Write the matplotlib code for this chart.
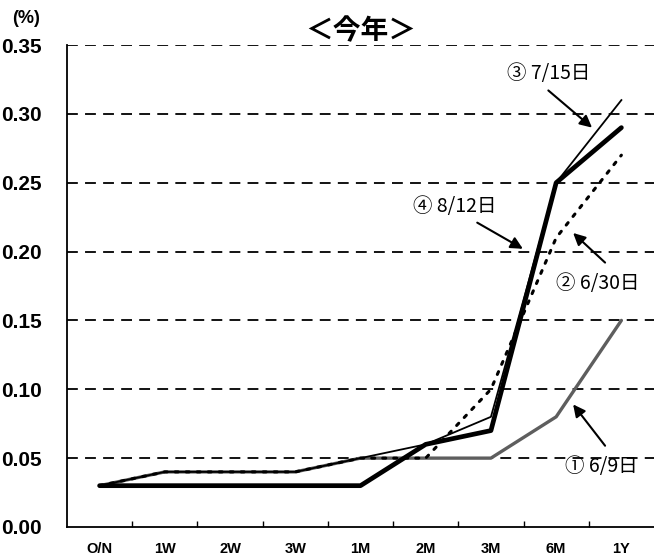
import numpy as np
import matplotlib.pyplot as plt

plt.rcParams['font.family'] = ['Liberation Sans', 'Noto Sans CJK JP', 'DejaVu Sans']

# tenors and yield curves (%)
tenors = ['O/N', '1W', '2W', '3W', '1M', '2M', '3M', '6M', '1Y']
curve_0609 = [0.03, 0.04, 0.04, 0.04, 0.05, 0.05, 0.05, 0.08, 0.15]
curve_0630 = [0.03, 0.04, 0.04, 0.04, 0.05, 0.05, 0.10, 0.21, 0.27]
curve_0715 = [0.03, 0.04, 0.04, 0.04, 0.05, 0.06, 0.08, 0.25, 0.31]
curve_0812 = [0.03, 0.03, 0.03, 0.03, 0.03, 0.06, 0.07, 0.25, 0.29]

yticks = [0.00, 0.05, 0.10, 0.15, 0.20, 0.25, 0.30, 0.35]

x = np.arange(len(tenors))

fig = plt.figure(figsize=(6.54, 5.57), dpi=100)
ax = fig.add_axes([0.1024, 0.0539, 0.8976, 0.8653])

# dashed grid
for y in yticks[1:]:
    ax.axhline(y, color='black', lw=1.3, ls=(0, (6, 4)), zorder=1)

ax.plot(x, curve_0609, color='#5e5e5e', lw=2.4, solid_capstyle='round', zorder=2)
ax.plot(x, curve_0630, color='black', lw=2.2, ls=(0, (1, 2.6)), dash_capstyle='round', zorder=3)
ax.plot(x, curve_0715, color='black', lw=1.3, zorder=4)
ax.plot(x, curve_0812, color='black', lw=3.4, solid_capstyle='round', zorder=5)

ax.set_xlim(-0.5, len(tenors) - 0.5)
ax.set_ylim(0, 0.35)
ax.set_yticks(yticks)
ax.set_yticklabels([f'{v:.2f}' for v in yticks], fontsize=15, fontweight='bold')
ax.tick_params(axis='y', length=0, pad=18)
ax.set_xticks(x)
ax.set_xticklabels(tenors, fontsize=10.5, fontweight='bold')
ax.tick_params(axis='x', length=0, pad=11)
ax.set_xticks(x[:-1] + 0.5, minor=True)
ax.tick_params(axis='x', which='minor', direction='in', length=4, width=1)

for s in ['top', 'right']:
    ax.spines[s].set_visible(False)
for s in ['left', 'bottom']:
    ax.spines[s].set_linewidth(1.3)

fig.text(0.018, 0.967, '(%)', fontsize=13, fontweight='bold', va='center', ha='left')
ax.set_title('＜今年＞', fontsize=20, fontweight='bold', pad=4, family=['Noto Sans CJK JP'])

arrow = dict(arrowstyle='-|>', color='black', lw=1.5, mutation_scale=18, shrinkA=0, shrinkB=0)
lab_font = dict(fontsize=14, family=['Noto Sans CJK JP', 'DejaVu Sans'], ha='center', va='center')

ax.annotate('', xy=(7.55, 0.290), xytext=(6.88, 0.317), arrowprops=arrow)
ax.text(6.88, 0.329, '③ 7/15日', **lab_font)

ax.annotate('', xy=(6.49, 0.202), xytext=(5.79, 0.221), arrowprops=arrow)
ax.text(5.45, 0.233, '④ 8/12日', **lab_font)

ax.annotate('', xy=(7.26, 0.2135), xytext=(7.75, 0.192), arrowprops=arrow)
ax.text(7.64, 0.177, '② 6/30日', **lab_font)

ax.annotate('', xy=(7.26, 0.089), xytext=(7.75, 0.059), arrowprops=arrow)
ax.text(7.70, 0.0436, '① 6/9日', **lab_font)

fig.savefig('out.png', dpi=100)
